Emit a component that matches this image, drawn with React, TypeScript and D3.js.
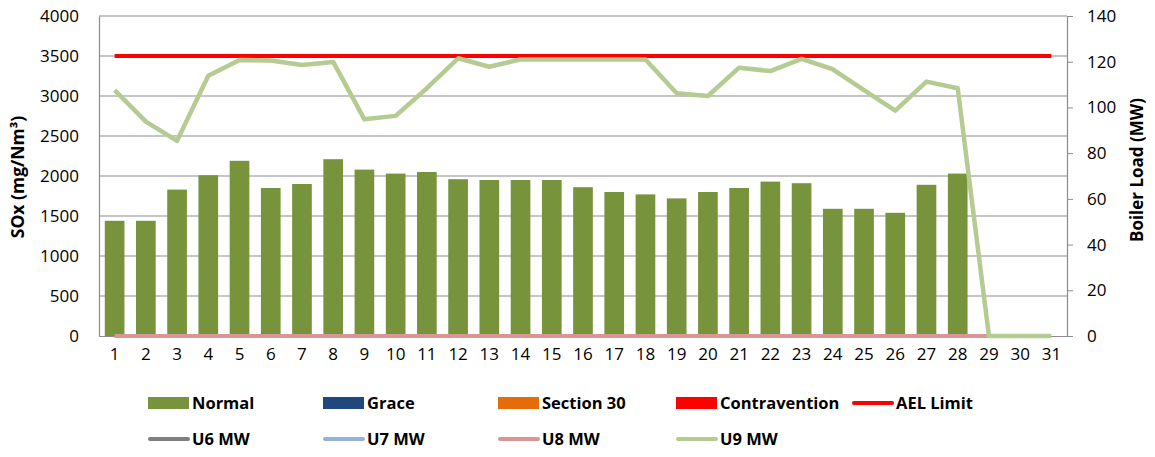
import { useEffect, useRef } from "react";
import * as d3 from "d3";

// Days of the month (categories)
const days: string[] = d3.range(1, 32).map(String);

// SOx in Normal band (mg/Nm3), left axis
const normalSox: (number | null)[] = [
    1440, 1440, 1830, 2010, 2190, 1850, 1900, 2210, 2080, 2030,
    2050, 1960, 1950, 1950, 1950, 1860, 1800, 1770, 1720, 1800,
    1850, 1930, 1910, 1590, 1590, 1540, 1890, 2030, null, null, null,
];

// AEL limit (mg/Nm3)
const aelLimit: number[] = days.map(() => 3500);

// Boiler loads (MW), right axis
const u8Load: (number | null)[] = days.map((_, i) => (i < 29 ? 0 : null));
const u9Load: number[] = [
    107.6, 93.8, 85.4, 113.9, 120.8, 120.5, 118.6, 119.9, 94.8, 96.3,
    108.4, 121.5, 117.8, 121.0, 121.0, 121.0, 121.0, 121.0, 106.2, 105.0,
    117.4, 115.9, 121.2, 116.7, 107.6, 98.6, 111.3, 108.4, 0, 0, 0,
];

const leftTicks = d3.range(0, 4001, 500);
const rightTicks = d3.range(0, 141, 20);

interface LegendItem {
    label: string;
    color: string;
    kind: "box" | "line";
}

const legendRow1: LegendItem[] = [
    { label: "Normal", color: "#77933C", kind: "box" },
    { label: "Grace", color: "#1F497D", kind: "box" },
    { label: "Section 30", color: "#E46C0A", kind: "box" },
    { label: "Contravention", color: "#FF0000", kind: "box" },
    { label: "AEL Limit", color: "#FF0000", kind: "line" },
];
const legendRow2: LegendItem[] = [
    { label: "U6 MW", color: "#7F7F7F", kind: "line" },
    { label: "U7 MW", color: "#95B3D7", kind: "line" },
    { label: "U8 MW", color: "#D99694", kind: "line" },
    { label: "U9 MW", color: "#B5CB92", kind: "line" },
];

const W = 1155;
const H = 457;
const FONT = "'Open Sans', 'Noto Sans', sans-serif";

export default function App(): JSX.Element {
    const svgRef = useRef<SVGSVGElement>(null);

    useEffect(() => {
        const svg = d3.select(svgRef.current);
        svg.selectAll("*").remove();

        const left = 99, right = 1067, top = 16, bottom = 336;

        const x = d3.scaleBand<string>().domain(days).range([left, right]).paddingInner(0.37).paddingOuter(0.185);
        const xc = (i: number) => (x(days[i]) as number) + x.bandwidth() / 2;
        const yL = d3.scaleLinear().domain([0, 4000]).range([bottom, top]);
        const yR = d3.scaleLinear().domain([0, 140]).range([bottom, top]);

        // Gridlines
        svg.append("g")
            .selectAll("line")
            .data(leftTicks.filter(t => t > 0))
            .enter().append("line")
            .attr("x1", left).attr("x2", right)
            .attr("y1", d => yL(d)).attr("y2", d => yL(d))
            .attr("stroke", "#8C8C8C").attr("stroke-width", 1.2);

        // Left axis (no outward ticks, gridlines do the job)
        const gL = svg.append("g")
            .attr("transform", `translate(${left},0)`)
            .call(d3.axisLeft(yL).tickValues(leftTicks).tickSize(0).tickPadding(20).tickFormat(d3.format("d")));
        gL.select(".domain").attr("stroke", "#8C8C8C").attr("stroke-width", 1.2);
        gL.selectAll("text").attr("font-family", FONT).attr("font-size", 17).attr("fill", "#000");

        // Right axis
        const gR = svg.append("g")
            .attr("transform", `translate(${right},0)`)
            .call(d3.axisRight(yR).tickValues(rightTicks).tickSize(6).tickPadding(14));
        gR.select(".domain").attr("stroke", "#8C8C8C").attr("stroke-width", 1.2);
        gR.selectAll(".tick line").attr("stroke", "#8C8C8C");
        gR.selectAll("text").attr("font-family", FONT).attr("font-size", 17).attr("fill", "#000");

        // Bottom axis
        const gB = svg.append("g")
            .attr("transform", `translate(0,${bottom})`)
            .call(d3.axisBottom(x).tickSize(0).tickPadding(12));
        gB.select(".domain").attr("stroke", "#8C8C8C").attr("stroke-width", 1.2);
        gB.selectAll("text").attr("font-family", FONT).attr("font-size", 17).attr("fill", "#000");

        // Bars
        svg.append("g")
            .selectAll("rect")
            .data(normalSox.map((v, i) => ({ v, i })).filter(d => d.v !== null))
            .enter().append("rect")
            .attr("x", d => x(days[d.i]) as number)
            .attr("width", x.bandwidth())
            .attr("y", d => yL(d.v as number))
            .attr("height", d => bottom - yL(d.v as number))
            .attr("fill", "#77933C");

        // AEL limit
        const lineL = d3.line<number>().x((_, i) => xc(i)).y(d => yL(d));
        svg.append("path")
            .attr("d", lineL(aelLimit))
            .attr("fill", "none").attr("stroke", "#FF0000").attr("stroke-width", 4);

        // Load lines
        const lineR = d3.line<number | null>()
            .defined(d => d !== null)
            .x((_, i) => xc(i)).y(d => yR(d as number));
        svg.append("path")
            .attr("d", lineR(u8Load))
            .attr("fill", "none").attr("stroke", "#D99694").attr("stroke-width", 4);
        svg.append("path")
            .attr("d", lineR(u9Load))
            .attr("fill", "none").attr("stroke", "#B5CB92").attr("stroke-width", 4.5)
            .attr("stroke-linejoin", "round");

        // Axis titles
        svg.append("text")
            .attr("transform", `translate(24,177) rotate(-90)`)
            .attr("text-anchor", "middle")
            .attr("font-family", FONT).attr("font-size", 17.5).attr("font-weight", "bold")
            .text("SOx (mg/Nm³)");
        svg.append("text")
            .attr("transform", `translate(1143,170) rotate(-90)`)
            .attr("text-anchor", "middle")
            .attr("font-family", FONT).attr("font-size", 17).attr("font-weight", "bold")
            .text("Boiler Load (MW)");

        // Legend
        const legendX = [148, 323, 498, 676, 852];
        const drawRow = (items: LegendItem[], cy: number) => {
            items.forEach((it, i) => {
                const lx = legendX[i];
                if (it.kind === "box") {
                    svg.append("rect")
                        .attr("x", lx).attr("y", cy - 6).attr("width", 41).attr("height", 12)
                        .attr("fill", it.color);
                } else {
                    svg.append("line")
                        .attr("x1", lx + 2).attr("x2", lx + 40)
                        .attr("y1", cy).attr("y2", cy)
                        .attr("stroke", it.color).attr("stroke-width", 4)
                        .attr("stroke-linecap", "round");
                }
                svg.append("text")
                    .attr("x", lx + 44).attr("y", cy + 6)
                    .attr("font-family", FONT).attr("font-size", 16.5).attr("font-weight", "bold")
                    .text(it.label);
            });
        };
        drawRow(legendRow1, 403);
        drawRow(legendRow2, 439);
    }, []);

    return (
        <svg ref={svgRef} width={W} height={H}
            style={{ position: "absolute", left: 0, top: 0, background: "#fff" }} />
    );
}
